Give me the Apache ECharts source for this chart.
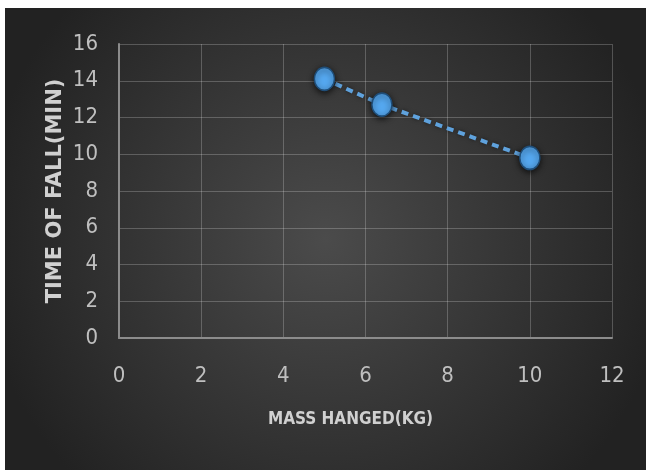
<!DOCTYPE html>
<html>
<head>
<meta charset="utf-8">
<script src="https://cdn.jsdelivr.net/npm/echarts@6/dist/echarts.min.js"></script>
<style>
html,body{margin:0;padding:0;background:#fff;}
#c{width:646px;height:470px;}
</style>
</head>
<body>
<div id="c"></div>
<script>
var massKg = [5, 6.4, 10];
var timeMin = [14.1, 12.7, 9.8];
var xTicks = [0, 2, 4, 6, 8, 10, 12];
var yTicks = [0, 2, 4, 6, 8, 10, 12, 14, 16];
var xTitle = 'MASS HANGED(KG)';
var yTitle = 'TIME OF FALL(MIN)';

var narrow = "'DejaVu Sans Condensed', sans-serif";
var chart = echarts.init(document.getElementById('c'), null, {renderer: 'canvas'});
var pts = massKg.map(function (x, i) { return [x, timeMin[i]]; });
var option = {
  backgroundColor: '#ffffff',
  animation: false,
  graphic: [{
    type: 'rect', z: -10, silent: true,
    shape: {x: 5, y: 8, width: 641, height: 462},
    style: {
      fill: new echarts.graphic.RadialGradient(0.5, 0.5, 0.75, [
        {offset: 0, color: '#4b4b4b'},
        {offset: 1, color: '#222222'}
      ])
    }
  }],
  grid: {left: 119, right: 34, top: 44, bottom: 132, containLabel: false},
  xAxis: {
    type: 'value', min: xTicks[0], max: xTicks[xTicks.length - 1], interval: 2,
    name: xTitle, nameLocation: 'middle', nameGap: 73,
    nameTextStyle: {color: '#d0d0d0', fontSize: 17, fontWeight: 'bold', fontFamily: narrow, padding: [0, 30, 0, 0]},
    axisLine: {show: true, lineStyle: {color: '#8c8c8c', width: 2}},
    axisTick: {show: false},
    axisLabel: {color: '#bfbfbf', fontSize: 22, margin: 27, fontFamily: narrow},
    splitLine: {show: true, lineStyle: {color: 'rgba(255,255,255,0.22)', width: 1}}
  },
  yAxis: {
    type: 'value', min: yTicks[0], max: yTicks[yTicks.length - 1], interval: 2,
    name: yTitle, nameLocation: 'middle', nameGap: 53, nameRotate: 90, nameMoveOverlap: false,
    nameTextStyle: {color: '#d0d0d0', fontSize: 21, fontWeight: 'bold', fontFamily: "'DejaVu Sans', sans-serif"},
    axisLine: {show: true, lineStyle: {color: '#8c8c8c', width: 2}},
    axisTick: {show: false},
    axisLabel: {color: '#bfbfbf', fontSize: 22, margin: 21, fontFamily: narrow},
    splitLine: {show: true, lineStyle: {color: 'rgba(255,255,255,0.22)', width: 1}}
  },
  series: [{
    type: 'line',
    data: pts,
    symbol: 'circle',
    symbolSize: [20, 23],
    itemStyle: {color: '#55a8f0', borderColor: '#1f4e79', borderWidth: 1.5, shadowColor: 'rgba(0,0,0,0.7)', shadowBlur: 6, shadowOffsetY: 2},
    lineStyle: {color: '#5fa2dd', width: 4, type: [7, 5], shadowColor: 'rgba(0,0,0,0.5)', shadowBlur: 4}
  }]
};
chart.setOption(option);
</script>
</body>
</html>
